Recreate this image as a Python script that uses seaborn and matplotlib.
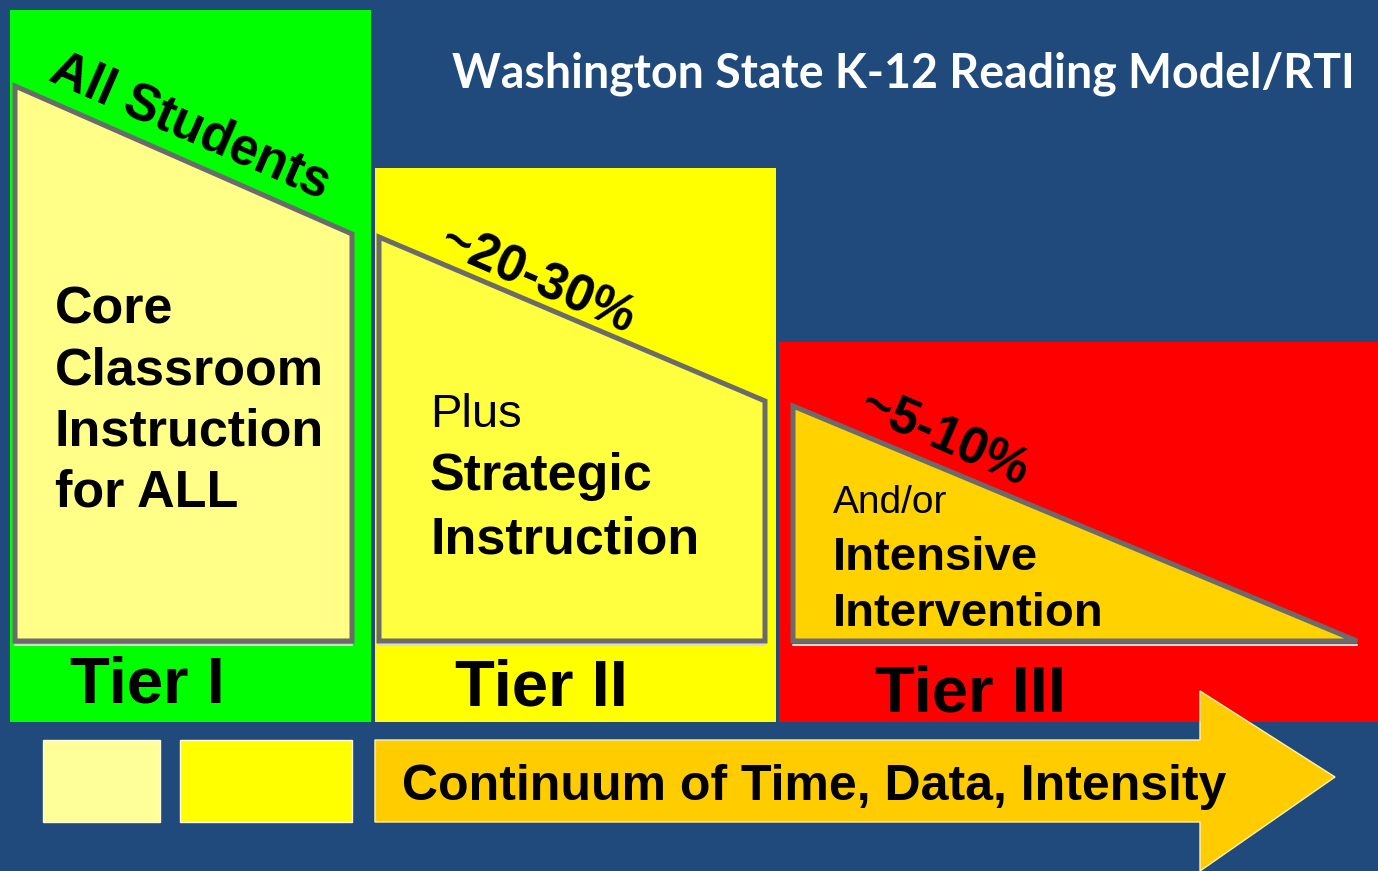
import matplotlib.pyplot as plt
import seaborn as sns

# text content of the diagram
tiers = ['Tier I', 'Tier II', 'Tier III']
shares = ['All Students', '~20-30%', '~5-10%']
lead_in = ['', 'Plus', 'And/or']
instruction = [
    ['Core', 'Classroom', 'Instruction', 'for ALL'],
    ['Strategic', 'Instruction'],
    ['Intensive', 'Intervention'],
]
title = 'Washington State K-12 Reading Model/RTI'
continuum = 'Continuum of Time, Data, Intensity'

# layout in pixel units (y goes down)
panel_left = [10, 375, 779]
panel_right = [371, 776, 1378]
panel_top = [10, 168, 342]
panel_bottom = 722
shape_left = [15, 379, 793]
shape_right = [352, 765, 1357]
shape_top_left = [86, 237, 406]
shape_top_right = [234, 401, 645]
shape_bottom = 641
share_xy = [(47, 80), (437, 252), (857, 416)]
lead_xy = [(0, 0), (430, 427), (833, 513)]
body_x = [55, 430, 833]
body_y0 = [323, 490, 570]
body_step = [61, 63, 56]
tier_xy = [(70, 702), (455, 705), (875, 711)]

bg = '#214a7c'
panel_colors = ['#00ff00', '#ffff00', '#ff0000']
shape_colors = ['#ffff88', '#ffff40', '#ffd200']
edge = '#6b6b6b'

sns.set_theme(style='white')
plt.rcParams['font.family'] = ['Liberation Sans', 'DejaVu Sans']

fig = plt.figure(figsize=(13.78, 8.71), dpi=100)
fig.patch.set_facecolor(bg)
ax = fig.add_axes([0, 0, 1, 1])
ax.set_facecolor(bg)
ax.set_xlim(0, 1378)
ax.set_ylim(871, 0)
ax.axis('off')

# coloured tier panels
widths = [r - l for l, r in zip(panel_left, panel_right)]
heights = [panel_bottom - t for t in panel_top]
ax.bar(panel_left, heights, width=widths, bottom=panel_top, align='edge',
       color=panel_colors, linewidth=0)

for i in range(3):
    l, r = shape_left[i], shape_right[i]
    tl, tr = shape_top_left[i], shape_top_right[i]
    if tr >= shape_bottom - 1:
        xs = [l, r, l]
        ys = [tl, shape_bottom, shape_bottom]
    else:
        xs = [l, r, r, l]
        ys = [tl, tr, shape_bottom, shape_bottom]
    # faint light shadow under the bottom edge
    ax.plot([l, r], [shape_bottom + 4, shape_bottom + 4], color='#d8d8d8',
            linewidth=1.5)
    ax.fill(xs, ys, facecolor=shape_colors[i], edgecolor=edge,
            linewidth=3.6, joinstyle='miter')
    ang = -23.5
    sx, sy = share_xy[i]
    ax.text(sx, sy, shares[i], rotation=ang, rotation_mode='anchor',
            ha='left', va='baseline', fontsize=37, fontweight='bold',
            color='black')
    if lead_in[i]:
        lx, ly = lead_xy[i]
        ax.text(lx, ly, lead_in[i], ha='left', va='baseline',
                fontsize=34 if i == 1 else 28, color='black')
    fs = 37.5 if i < 2 else 34
    for k, line in enumerate(instruction[i]):
        ax.text(body_x[i], body_y0[i] + k * body_step[i], line,
                ha='left', va='baseline', fontsize=fs, fontweight='bold',
                color='black')
    tx, ty = tier_xy[i]
    ax.text(tx, ty, tiers[i], ha='left', va='baseline', fontsize=47,
            fontweight='bold', color='black')

# bottom swatches and arrow
ax.bar([43, 180], [82, 82], width=[117, 172], bottom=740, align='edge',
       color=['#ffff99', '#ffff00'], edgecolor='#fffbe0', linewidth=1)
arrow_x = [375, 1200, 1200, 1335, 1200, 1200, 375]
arrow_y = [740, 740, 691, 777, 871, 822, 822]
ax.fill(arrow_x, arrow_y, facecolor='#ffcc00', edgecolor='#fff2b0',
        linewidth=1)
ax.text(402, 800, continuum, ha='left', va='baseline', fontsize=36,
        fontweight='bold', color='black')

ax.text(1355, 87, title, ha='right', va='baseline', fontsize=33.5,
        fontweight='bold', color='white', family=['Lato', 'DejaVu Sans'])

fig.savefig('out.png', dpi=100, facecolor=bg)
